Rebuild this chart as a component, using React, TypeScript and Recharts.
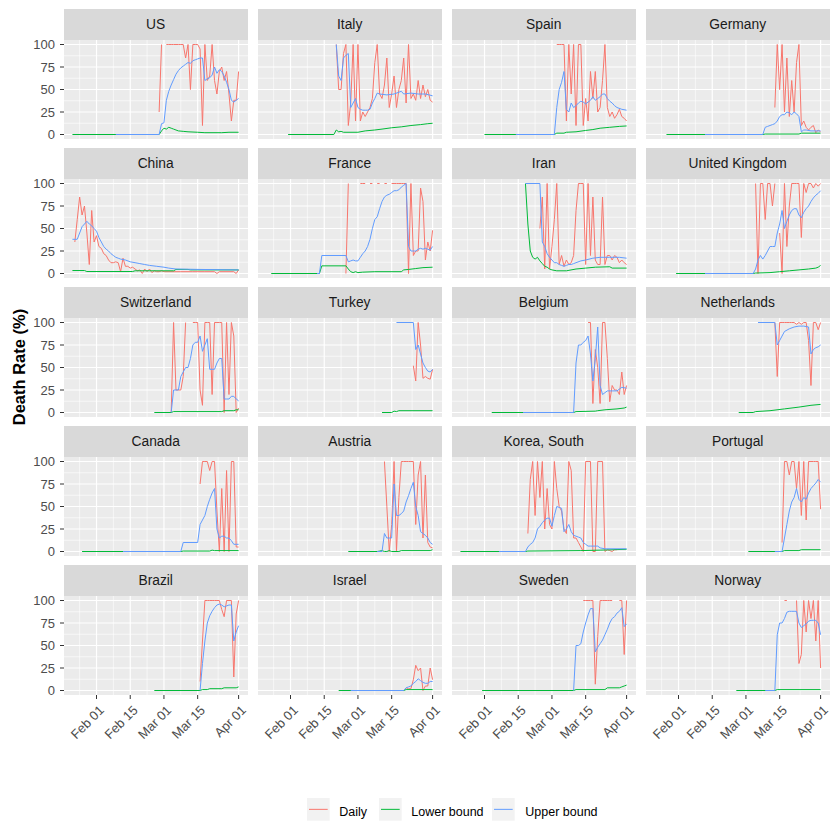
import React from 'react';
import { LineChart, Line, XAxis, YAxis, CartesianGrid } from 'recharts';

type Pt = [number, number | null];

// Day index: 0 = Feb 01 (Jan 22 = -10, Mar 01 = 28, Apr 01 = 59)
const xTickDays = [0, 14, 28, 42, 59];
const xTickLabels = ['Feb 01', 'Feb 15', 'Mar 01', 'Mar 15', 'Apr 01'];
const xMinorDays = [-7, 7, 21, 35, 50.5];
const yTicks = [0, 25, 50, 75, 100];
const yMinor = [12.5, 37.5, 62.5, 87.5];

const countries = ['US', 'Italy', 'Spain', 'Germany', 'China', 'France', 'Iran', 'United Kingdom', 'Switzerland', 'Turkey', 'Belgium', 'Netherlands', 'Canada', 'Austria', 'Korea, South', 'Portugal', 'Brazil', 'Israel', 'Sweden', 'Norway'];

const seriesNames = ['Daily', 'Lower bound', 'Upper bound'];
const seriesColors = ['#F8766D', '#00BA38', '#619CFF'];

// ---------- US ----------
const usDaily: Pt[] = [[26,25],[27,100],[28,null],[29,100],[30,100],[31,100],[32,100],[33,100],[34,100],[35,100],[36,100],[37,85],[38,100],[39,50],[40,100],[41,100],[42,100],[43,95],[44,10],[45,100],[46,60],[47,65],[48,100],[49,60],[50,45],[51,70],[52,75],[53,60],[54,70],[55,45],[56,15],[57,38],[58,38],[59,70]];
const usLower: Pt[] = [[-10,0],[26,0],[27,4],[28,7],[29,6],[30,8],[31,7],[32,6],[33,5],[34,4],[36,3.5],[38,3],[42,2.5],[45,2],[52,2],[55,2.5],[59,2.5]];
const usUpper: Pt[] = [[8,0],[26,0],[27,12],[28,13],[29,38],[30,48],[31,55],[32,61],[33,67],[34,71],[35,74],[36,76],[37,78],[38,80],[39,79],[40,82],[41,83],[42,84],[43,85],[44,85],[45,60],[46,62],[47,63],[48,66],[49,75],[50,68],[51,72],[52,70],[53,65],[54,58],[55,50],[56,38],[57,36],[58,38],[59,40]];

// ---------- Italy ----------
const itDaily: Pt[] = [[19,100],[20,50],[21,50],[22,90],[23,100],[24,10],[25,35],[26,100],[27,15],[28,100],[29,15],[30,25],[31,20],[32,25],[33,30],[34,40],[35,80],[36,100],[37,45],[38,40],[39,55],[40,85],[41,30],[42,45],[43,65],[44,30],[45,50],[46,60],[47,85],[48,35],[49,100],[50,40],[51,45],[52,38],[53,60],[54,40],[55,55],[56,42],[57,50],[58,38],[59,36]];
const itLower: Pt[] = [[-1,0],[18,0],[19,5],[20,3],[21,3.5],[22,2.5],[28,2.5],[31,4],[35,5],[38,6],[42,7.5],[46,8.5],[50,10],[54,11],[57,12],[59,12.5]];
const itUpper: Pt[] = [[19,100],[20,65],[21,60],[22,85],[23,88],[24,90],[25,30],[26,35],[27,40],[28,30],[29,28],[30,27],[31,27],[32,27],[33,28],[34,35],[35,40],[36,46],[37,45],[40,44],[43,45],[46,48],[47,45],[50,46],[53,45],[56,45],[59,43]];

// ---------- Spain ----------
const esDaily: Pt[] = [[30,100],[31,100],[32,100],[33,100],[34,15],[35,100],[36,45],[37,100],[38,10],[39,100],[40,100],[41,10],[42,40],[43,15],[44,70],[45,40],[46,70],[47,25],[48,30],[49,60],[50,100],[51,30],[52,20],[53,25],[54,18],[55,22],[56,28],[57,20],[58,18],[59,15]];
const esLower: Pt[] = [[0,0],[29,0],[30,1.5],[33,1.5],[34,2.5],[38,3],[42,4.5],[45,5.5],[48,7],[52,8],[56,9],[59,9.5]];
const esUpper: Pt[] = [[13,0],[29,0],[30,30],[31,50],[32,58],[33,70],[34,28],[35,25],[36,35],[37,30],[38,32],[39,35],[40,37],[41,36],[42,34],[43,36],[44,38],[45,42],[46,38],[47,40],[48,42],[49,45],[50,45],[51,40],[52,37],[53,35],[54,32],[55,30],[57,28],[59,27]];

// ---------- Germany ----------
const deDaily: Pt[] = [[40,30],[41,100],[42,50],[43,100],[44,25],[45,85],[46,20],[47,60],[48,25],[49,80],[50,100],[51,10],[52,15],[53,8],[54,5],[55,8],[56,10],[57,2],[58,5],[59,3]];
const deLower: Pt[] = [[-5,0],[35,0],[36,0.5],[50,0.5],[51,1.5],[59,1.5]];
const deUpper: Pt[] = [[11,0],[35,0],[36,8],[37,9],[38,10],[39,11],[40,12],[41,15],[42,20],[43,22],[44,22],[45,25],[46,24],[47,22],[48,25],[49,23],[50,20],[51,3],[52,5],[53,5],[55,4],[57,4],[59,4]];

// ---------- China ----------
const cnDaily: Pt[] = [[-9,35],[-8,60],[-7,85],[-6,65],[-5,75],[-4,45],[-3,10],[-2,70],[-1,35],[0,42],[1,30],[2,28],[3,22],[4,20],[5,15],[6,12],[7,12],[8,13],[9,12],[10,2],[11,17],[12,8],[13,8],[14,6],[15,7],[16,5],[17,3],[18,4],[19,0],[20,5],[21,2],[22,5],[23,1],[24,3],[25,2],[26,2],[27,3],[28,2],[35,2],[40,2],[45,2],[49,2],[50,0],[51,2],[57,2],[58,0],[59,4]];
const cnLower: Pt[] = [[-10,3.3],[-5,3.3],[-4,2.2],[15,2.2],[16,3],[32,3],[33,4.5],[38,4.5],[39,4],[59,4]];
const cnUpper: Pt[] = [[-10,38],[-8,38],[-7,45],[-6,52],[-5,55],[-4,58],[-3,55],[-2,53],[-1,50],[0,47],[1,40],[2,35],[3,30],[4,27],[5,25],[6,22],[7,20],[8,18],[9,17],[10,16],[12,15],[14,13],[16,12],[18,11],[20,10],[22,9],[25,8],[28,7],[30,6],[33,5],[43,4.5],[59,4]];

// ---------- France ----------
const frDaily: Pt[] = [[23,0],[24,100],[25,null],[29,100],[30,100],[31,100],[32,null],[33,100],[34,100],[35,null],[36,100],[37,100],[38,null],[39,100],[40,100],[41,null],[42,100],[43,100],[44,100],[45,100],[46,100],[47,100],[48,100],[49,0],[50,100],[51,20],[52,25],[53,25],[54,95],[55,80],[56,15],[57,35],[58,25],[59,48]];
const frLower: Pt[] = [[-8,0],[12,0],[13,8.5],[23,8.5],[24,5],[25,2],[26,1],[27,2],[28,1],[30,1.5],[35,2],[46,2],[47,4],[49,4.5],[52,5.5],[55,6.5],[59,7]];
const frUpper: Pt[] = [[11,0],[12,0],[13,20],[23,20],[24,13],[25,14],[26,15],[27,14],[28,14],[29,18],[30,22],[31,25],[32,30],[33,38],[34,50],[35,60],[36,63],[37,72],[38,80],[39,85],[40,87],[41,88],[42,90],[43,92],[44,92],[45,93],[46,96],[47,98],[48,100],[49,30],[50,25],[51,25],[52,25],[53,27],[54,28],[55,27],[56,28],[57,27],[58,26],[59,30]];

// ---------- Iran ----------
const irDaily: Pt[] = [[23,50],[24,85],[25,5],[26,100],[27,5],[28,30],[29,60],[30,100],[31,10],[32,20],[33,8],[34,15],[35,10],[36,12],[37,20],[38,70],[39,100],[40,100],[41,100],[42,10],[43,100],[44,20],[45,85],[46,15],[47,10],[48,10],[49,85],[50,10],[51,20],[52,20],[53,15],[54,20],[55,18],[56,12],[57,15],[58,12],[59,10]];
const irLower: Pt[] = [[17,100],[18,55],[19,25],[20,18],[21,16],[22,18],[23,14],[24,11],[25,8],[26,7],[27,5],[28,4],[30,3],[34,3],[38,5],[42,6],[46,7],[52,7.5],[53,6],[59,6]];
const irUpper: Pt[] = [[17,100],[23,100],[24,35],[25,30],[26,22],[27,18],[28,15],[29,12],[30,12],[31,10],[32,9],[33,8],[34,9],[35,10],[36,10],[37,11],[38,12],[40,14],[42,15],[45,17],[48,18],[52,18],[56,18],[59,17]];

// ---------- United Kingdom ----------
const ukDaily: Pt[] = [[32,100],[33,0],[34,100],[35,100],[36,60],[37,100],[38,100],[39,75],[40,100],[41,null],[42,45],[43,0],[44,100],[45,30],[46,75],[47,100],[48,100],[49,100],[50,100],[51,40],[52,100],[53,90],[54,100],[55,100],[56,95],[57,100],[58,97],[59,100]];
const ukLower: Pt[] = [[-1,0],[31,0],[32,0.5],[38,1],[42,2],[46,3],[50,4],[54,5],[57,6],[58,7],[59,9]];
const ukUpper: Pt[] = [[11,0],[31,0],[32,5],[33,15],[34,20],[35,16],[36,20],[37,25],[38,30],[39,30],[40,30],[41,45],[42,55],[43,70],[44,50],[45,58],[46,65],[47,70],[48,72],[49,72],[50,65],[51,62],[52,68],[53,72],[54,75],[55,80],[56,84],[57,87],[58,89],[59,92]];

// ---------- Switzerland ----------
const chDaily: Pt[] = [[31,0],[32,100],[33,25],[34,25],[35,25],[36,40],[37,100],[38,null],[40,100],[41,100],[42,100],[43,25],[44,8],[45,100],[46,100],[47,100],[48,20],[49,100],[50,100],[51,100],[52,100],[53,0],[54,100],[55,20],[56,100],[57,85],[58,0],[59,5]];
const chLower: Pt[] = [[24,0],[31,0],[32,1],[52,1],[53,2],[57,2],[58,3],[59,3]];
const chUpper: Pt[] = [[31,0],[32,25],[33,25],[34,25],[35,40],[36,45],[37,50],[38,50],[39,60],[40,75],[41,78],[42,78],[43,85],[44,68],[45,75],[46,82],[47,48],[48,48],[49,48],[50,55],[51,60],[52,60],[53,15],[54,15],[55,15],[56,18],[57,18],[58,15],[59,13]];

// ---------- Turkey ----------
const trDaily: Pt[] = [[51,52],[52,35],[53,100],[54,75],[55,38],[56,40],[57,38],[58,37],[59,48]];
const trLower: Pt[] = [[38,0],[42,0],[43,1.5],[44,1],[45,2],[59,2]];
const trUpper: Pt[] = [[44,100],[51,100],[52,70],[53,75],[54,65],[55,55],[56,50],[57,46],[58,45],[59,48]];

// ---------- Belgium ----------
const beDaily: Pt[] = [[43,100],[44,100],[45,10],[46,70],[47,50],[48,10],[49,100],[50,100],[51,60],[52,12],[53,30],[54,25],[55,25],[56,20],[57,45],[58,20],[59,30]];
const beLower: Pt[] = [[3,0],[37,0],[38,1],[46,1.5],[47,2],[50,3],[55,4],[58,5],[59,6]];
const beUpper: Pt[] = [[16,0],[37,0],[38,55],[39,75],[40,75],[41,78],[42,80],[43,85],[44,65],[45,35],[46,60],[47,95],[48,30],[49,20],[50,22],[51,24],[53,24],[55,24],[57,28],[59,27]];

// ---------- Netherlands ----------
const nlDaily: Pt[] = [[40,100],[41,40],[42,100],[43,100],[44,100],[45,100],[46,100],[47,100],[48,100],[49,98],[50,100],[51,98],[52,100],[53,100],[54,80],[55,30],[56,100],[57,100],[58,92],[59,100]];
const nlLower: Pt[] = [[25,0],[31,0],[32,1],[38,2],[44,4],[50,6],[55,8],[59,9]];
const nlUpper: Pt[] = [[33,100],[40,100],[41,75],[42,80],[43,85],[44,90],[46,93],[48,95],[50,96],[52,96],[54,95],[55,65],[56,70],[57,72],[58,73],[59,75]];

// ---------- Canada ----------
const caDaily: Pt[] = [[43,75],[44,100],[45,100],[46,100],[47,90],[48,100],[49,100],[50,45],[51,0],[52,70],[53,0],[54,90],[55,0],[56,100],[57,100],[58,5],[59,5]];
const caLower: Pt[] = [[-6,0],[35,0],[36,0.5],[47,0.5],[48,1.5],[49,1],[59,1]];
const caUpper: Pt[] = [[11,0],[35,0],[36,10],[42,10],[43,30],[44,35],[45,40],[46,50],[47,58],[48,65],[49,70],[50,25],[51,15],[52,17],[53,17],[54,15],[55,15],[56,12],[57,8],[58,8],[59,8]];

// ---------- Austria ----------
const atDaily: Pt[] = [[39,100],[40,50],[41,0],[42,30],[43,100],[44,0],[45,60],[46,100],[47,100],[48,100],[49,100],[50,100],[51,100],[52,30],[53,85],[54,100],[55,15],[56,85],[57,10],[58,5],[59,4]];
const atLower: Pt[] = [[24,0],[36,0],[37,0.5],[38,1],[39,0],[40,0],[41,1],[42,0],[45,0],[46,1],[58,1],[59,2]];
const atUpper: Pt[] = [[36,0],[38,0],[39,20],[40,15],[42,15],[43,75],[44,40],[45,40],[46,42],[47,45],[48,55],[49,62],[50,70],[51,77],[52,50],[53,40],[54,22],[55,20],[56,18],[57,15],[58,10],[59,8]];

// ---------- Korea, South ----------
const krDaily: Pt[] = [[18,20],[19,80],[20,100],[21,40],[22,100],[23,60],[24,100],[25,25],[26,70],[27,30],[28,25],[29,100],[30,70],[31,50],[32,45],[33,25],[34,20],[35,100],[36,90],[37,15],[38,15],[39,10],[40,5],[41,0],[42,100],[43,100],[44,100],[45,0],[46,0],[47,100],[48,100],[49,100],[50,0],[51,2],[52,1],[53,0],[54,2],[55,2]];
const krLower: Pt[] = [[-10,0],[17,0],[18,0.5],[40,1],[48,1.5],[59,2.5]];
const krUpper: Pt[] = [[6,0],[17,0],[18,5],[19,8],[20,10],[21,15],[22,25],[23,28],[24,32],[25,35],[26,37],[27,37],[28,28],[29,40],[30,50],[31,49],[32,48],[33,22],[34,25],[35,30],[36,22],[37,18],[38,17],[39,16],[40,15],[41,10],[42,8],[43,6],[44,6],[46,6],[47,6],[48,4],[50,3],[59,3]];

// ---------- Portugal ----------
const ptDaily: Pt[] = [[43,10],[44,100],[45,100],[46,85],[47,100],[48,100],[49,70],[50,100],[51,40],[52,100],[53,35],[54,100],[55,100],[56,100],[57,100],[58,100],[59,47]];
const ptLower: Pt[] = [[29,0],[43,0],[44,1],[50,1],[51,2],[59,2]];
const ptUpper: Pt[] = [[40,0],[43,0],[44,15],[45,30],[46,45],[47,55],[48,60],[49,70],[50,58],[51,55],[52,60],[53,58],[54,65],[55,70],[56,73],[57,76],[58,80],[59,77]];

// ---------- Brazil ----------
const brDaily: Pt[] = [[43,10],[44,55],[45,100],[46,100],[47,100],[48,100],[49,100],[50,100],[51,100],[52,90],[53,82],[54,100],[55,100],[56,100],[57,15],[58,85],[59,100]];
const brLower: Pt[] = [[24,0],[43,0],[44,1],[46,1],[47,2],[52,2],[53,3],[58,3],[59,4]];
const brUpper: Pt[] = [[43,0],[44,30],[45,55],[46,75],[47,83],[48,88],[49,92],[50,95],[51,96],[52,95],[53,93],[54,94],[55,95],[56,95],[57,55],[58,65],[59,72]];

// ---------- Israel ----------
const ilDaily: Pt[] = [[47,0],[48,3],[49,2],[50,2],[51,12],[52,28],[53,22],[54,25],[55,0],[56,5],[57,5],[58,25],[59,12]];
const ilLower: Pt[] = [[20,0],[47,0],[48,1],[59,1]];
const ilUpper: Pt[] = [[25,0],[47,0],[48,3],[49,4],[50,5],[51,8],[52,10],[53,13],[54,11],[55,9],[56,8],[57,8],[58,10],[59,10]];

// ---------- Sweden ----------
const seDaily: Pt[] = [[41,100],[42,100],[43,100],[44,100],[45,100],[46,7],[47,60],[48,100],[49,100],[50,100],[51,100],[52,100],[53,100],[54,null],[56,100],[57,100],[58,40],[59,100]];
const seLower: Pt[] = [[-1,0],[37,0],[38,1],[50,1],[51,3],[56,3],[57,4],[58,5],[59,6]];
const seUpper: Pt[] = [[37,0],[38,50],[39,50],[40,52],[41,65],[42,75],[43,84],[44,91],[45,91],[46,43],[47,48],[48,52],[49,56],[50,62],[51,68],[52,75],[53,80],[54,82],[55,86],[56,88],[57,92],[58,71],[59,74]];

// ---------- Norway ----------
const noDaily: Pt[] = [[44,100],[45,100],[46,null],[49,100],[50,30],[51,40],[52,100],[53,65],[54,100],[55,80],[56,100],[57,55],[58,100],[59,25]];
const noLower: Pt[] = [[24,0],[40,0],[41,1],[59,1]];
const noUpper: Pt[] = [[36,0],[40,0],[41,62],[42,75],[43,75],[44,80],[45,87],[46,88],[47,88],[48,88],[49,88],[50,75],[51,70],[52,72],[53,74],[54,77],[55,78],[56,78],[57,78],[58,75],[59,62]];

const countrySeries: Pt[][][] = [
  [usDaily, usLower, usUpper],
  [itDaily, itLower, itUpper],
  [esDaily, esLower, esUpper],
  [deDaily, deLower, deUpper],
  [cnDaily, cnLower, cnUpper],
  [frDaily, frLower, frUpper],
  [irDaily, irLower, irUpper],
  [ukDaily, ukLower, ukUpper],
  [chDaily, chLower, chUpper],
  [trDaily, trLower, trUpper],
  [beDaily, beLower, beUpper],
  [nlDaily, nlLower, nlUpper],
  [caDaily, caLower, caUpper],
  [atDaily, atLower, atUpper],
  [krDaily, krLower, krUpper],
  [ptDaily, ptLower, ptUpper],
  [brDaily, brLower, brUpper],
  [ilDaily, ilLower, ilUpper],
  [seDaily, seLower, seUpper],
  [noDaily, noLower, noUpper],
];

const toRows = (p: Pt[]) => p.map(([d, v]) => ({ d, v }));

const FONT = '"Liberation Sans", Arial, sans-serif';
const PW = 184;
const PH = 99;
const STRIP_H = 30.7;
const COL0 = 63.7;
const COL_STEP = 194;
const ROW0 = 39.7;
const ROW_STEP = 139;
const Y_AXIS_W = 56;
const X_AXIS_H = 52;
const PAD = 10;

const XTick = (props: any) => {
  const { x, y, payload } = props;
  const i = xTickDays.indexOf(payload.value);
  const ax = x + 8.3;
  const ay = y + 10;
  return (
    <text x={ax} y={ay} transform={`rotate(-45 ${ax} ${ay})`} textAnchor="end" fontSize={13} fontFamily={FONT} fill="#4D4D4D">
      {xTickLabels[i]}
    </text>
  );
};

function Panel({ idx }: { idx: number }) {
  const r = Math.floor(idx / 4);
  const c = idx % 4;
  const left = COL0 + COL_STEP * c;
  const top = ROW0 + ROW_STEP * r;
  const first = c === 0;
  const last = r === 4;
  const w = PW + (first ? Y_AXIS_W : 0);
  const h = PH + PAD * 2 + (last ? X_AXIS_H : 0);
  const data = countrySeries[idx];
  return (
    <>
      <div
        style={{
          position: 'absolute', left, top: top - STRIP_H, width: PW, height: STRIP_H,
          background: '#D9D9D9', color: '#1A1A1A', fontFamily: FONT, fontSize: 13.8,
          display: 'flex', alignItems: 'center', justifyContent: 'center', whiteSpace: 'nowrap',
        }}
      >
        {countries[idx]}
      </div>
      <div style={{ position: 'absolute', left: left - (first ? Y_AXIS_W : 0), top: top - PAD }}>
        <LineChart width={w} height={h} margin={{ top: PAD, right: 0, bottom: PAD, left: 0 }}>
          <CartesianGrid fill="#EBEBEB" stroke="#FFFFFF" strokeWidth={0.6} horizontalValues={yMinor} verticalValues={xMinorDays} />
          <CartesianGrid stroke="#FFFFFF" strokeWidth={1.2} horizontalValues={yTicks} verticalValues={xTickDays} />
          <XAxis
            type="number" dataKey="d" domain={[-13.5, 62.9]} allowDataOverflow ticks={xTickDays}
            hide={!last} height={X_AXIS_H} axisLine={false} tickSize={4} tickMargin={2}
            tickLine={{ stroke: '#333333' }} tick={<XTick />} interval={0}
          />
          <YAxis
            type="number" domain={[-5, 105]} allowDataOverflow ticks={yTicks}
            hide={!first} width={Y_AXIS_W} axisLine={false} tickSize={4} tickMargin={5}
            tickLine={{ stroke: '#333333' }} interval={0}
            tick={{ fontSize: 13, fill: '#4D4D4D', fontFamily: FONT }}
          />
          {data.map((s, k) => (
            <Line
              key={seriesNames[k]} name={seriesNames[k]} data={toRows(s)} dataKey="v" type="linear"
              stroke={seriesColors[k]} strokeWidth={1} dot={false} activeDot={false}
              connectNulls={false} isAnimationActive={false}
            />
          ))}
        </LineChart>
      </div>
    </>
  );
}

const legendKeyX = [307.3, 379.3, 492];
const legendTextX = [339.3, 411.3, 525.3];

export default function App() {
  return (
    <div style={{ position: 'absolute', left: 0, top: 0, width: 840, height: 840, background: '#FFFFFF', fontFamily: FONT, overflow: 'hidden' }}>
      {countries.map((_, i) => <Panel key={i} idx={i} />)}
      <div
        style={{
          position: 'absolute', left: 18.5, top: 367, transform: 'translate(-50%, -50%) rotate(-90deg)',
          fontFamily: FONT, fontWeight: 'bold', fontSize: 16.5, color: '#000000', whiteSpace: 'nowrap',
        }}
      >
        Death Rate (%)
      </div>
      {seriesNames.map((n, k) => (
        <React.Fragment key={n}>
          <svg style={{ position: 'absolute', left: legendKeyX[k], top: 798 }} width={22.7} height={22.7}>
            <rect x={0} y={0} width={22.7} height={22.7} fill="#F2F2F2" />
            <line x1={2} x2={20.7} y1={11.35} y2={11.35} stroke={seriesColors[k]} strokeWidth={1} />
          </svg>
          <div
            style={{
              position: 'absolute', left: legendTextX[k], top: 800.5, height: 23, lineHeight: '23px',
              fontFamily: FONT, fontSize: 12.5, color: '#000000', whiteSpace: 'nowrap',
            }}
          >
            {n}
          </div>
        </React.Fragment>
      ))}
    </div>
  );
}
